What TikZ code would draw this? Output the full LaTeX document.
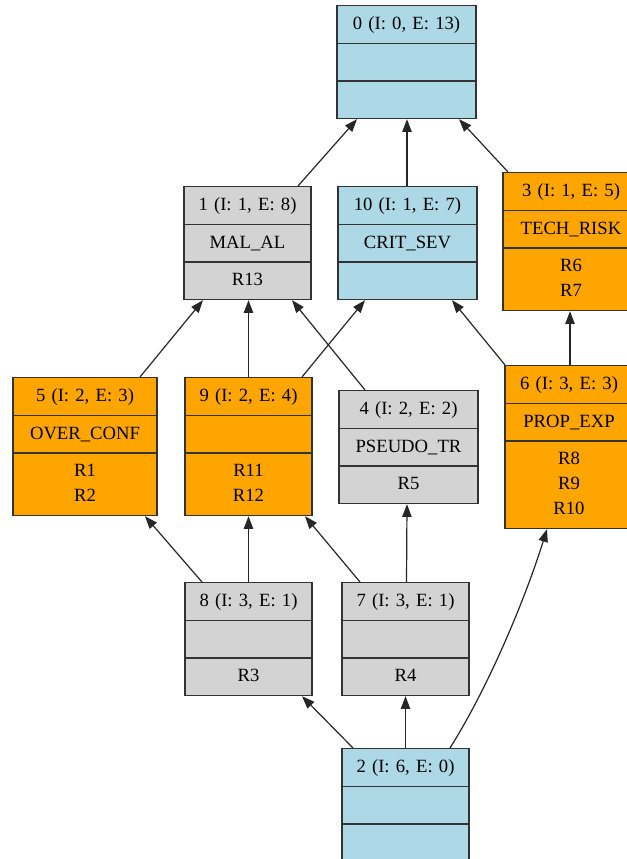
\documentclass[tikz,border=0pt]{standalone}
\usepackage{fontspec}
\setmainfont{Liberation Serif}
\usepackage{xcolor}
\usetikzlibrary{arrows.meta,shapes.multipart,calc}

\definecolor{lblue}{HTML}{ADD8E6}
\definecolor{lgrey}{HTML}{D3D3D3}
\definecolor{orng}{HTML}{FFA500}

\begin{document}
\begin{tikzpicture}[x=0.75pt,y=-0.75pt,
  >={Triangle[length=9.5pt,width=7pt]},
  rec/.style={draw=black!80,line width=0.9pt,rectangle split,rectangle split parts=3,
              anchor=north,inner xsep=0pt,inner ysep=4.3pt,align=center,
              font=\fontsize{14}{18.75}\selectfont},
  edge/.style={->,draw=black!85,line width=0.9pt}]
  \useasboundingbox (0,0) rectangle (627,859);
  \clip (0,0) rectangle (627,859);

  % top level
  \node[rec,fill=lblue,text width=104.25pt] (n0) at (406.5,5)
    {\strut 0 (I: 0, E: 13)\nodepart{two}\strut\nodepart{three}\strut};

  % second level
  \node[rec,fill=lgrey,text width=95.25pt] (n1) at (247.5,186)
    {\strut 1 (I: 1, E: 8)\nodepart{two}\strut MAL\_AL\nodepart{three}\strut R13};
  \node[rec,fill=lblue,text width=104.25pt] (n10) at (407.5,186)
    {\strut 10 (I: 1, E: 7)\nodepart{two}\strut CRIT\_SEV\nodepart{three}\strut};
  \node[rec,fill=orng,text width=102pt] (n3) at (571,172)
    {\strut 3 (I: 1, E: 5)\nodepart{two}\strut TECH\_RISK\nodepart{three}\strut R6\\\strut R7};

  % third level
  \node[rec,fill=orng,text width=108pt] (n5) at (85,377)
    {\strut 5 (I: 2, E: 3)\nodepart{two}\strut OVER\_CONF\nodepart{three}\strut R1\\\strut R2};
  \node[rec,fill=orng,text width=95.25pt] (n9) at (248.5,377)
    {\strut 9 (I: 2, E: 4)\nodepart{two}\strut\nodepart{three}\strut R11\\\strut R12};
  \node[rec,fill=lgrey,text width=104.25pt] (n4) at (408.5,390)
    {\strut 4 (I: 2, E: 2)\nodepart{two}\strut PSEUDO\_TR\nodepart{three}\strut R5};
  \node[rec,fill=orng,text width=96pt] (n6) at (569,365)
    {\strut 6 (I: 3, E: 3)\nodepart{two}\strut PROP\_EXP\nodepart{three}\strut R8\\\strut R9\\\strut R10};

  % fourth level
  \node[rec,fill=lgrey,text width=95.25pt] (n8) at (248.5,582)
    {\strut 8 (I: 3, E: 1)\nodepart{two}\strut\nodepart{three}\strut R3};
  \node[rec,fill=lgrey,text width=95.25pt] (n7) at (405.5,582)
    {\strut 7 (I: 3, E: 1)\nodepart{two}\strut\nodepart{three}\strut R4};

  % bottom
  \node[rec,fill=lblue,text width=95.25pt] (n2) at (405.5,748)
    {\strut 2 (I: 6, E: 0)\nodepart{two}\strut\nodepart{three}\strut};

  % edges point from child to parent
  \draw[edge] ($(n1.north)+(50.5,0)$) -- ($(n0.south)+(-49.5,0)$);
  \draw[edge] ($(n10.north)+(-0.5,0)$) -- ($(n0.south)+(0.5,0)$);
  \draw[edge] ($(n3.north)+(-63,0)$) -- ($(n0.south)+(52.5,0)$);
  \draw[edge] ($(n5.north)+(55,0)$) -- ($(n1.south)+(-44.5,0)$);
  \draw[edge] (n9.north) -- (n9.north |- n1.south);
  \draw[edge] ($(n4.north)+(-43.5,0)$) -- ($(n1.south)+(44.5,0)$);
  \draw[edge] ($(n9.north)+(53.5,0)$) -- ($(n10.south)+(-42.5,0)$);
  \draw[edge] ($(n6.north)+(-64,0)$) -- ($(n10.south)+(44.5,0)$);
  \draw[edge] ($(n6.north)+(1,0)$) -- ($(n3.south)+(-1,0)$);
  \draw[edge] ($(n8.north)+(-46.5,0)$) -- ($(n5.south)+(60,0)$);
  \draw[edge] (n8.north) -- (n8.north |- n9.south);
  \draw[edge] ($(n7.north)+(-45.5,0)$) -- ($(n9.south)+(56.5,0)$);
  \draw[edge] ($(n7.north)+(1,0)$) -- ($(n4.south)+(-1.5,0)$);
  \draw[edge] ($(n2.north)+(-52.5,0)$) -- ($(n8.south)+(53.5,0)$);
  \draw[edge] (n2.north) -- (n7.south);
  \draw[edge] ($(n2.north)+(44.5,0)$) .. controls +(39,-62) and +(-22,70) .. ($(n6.south)+(-22,0)$);
\end{tikzpicture}
\end{document}
